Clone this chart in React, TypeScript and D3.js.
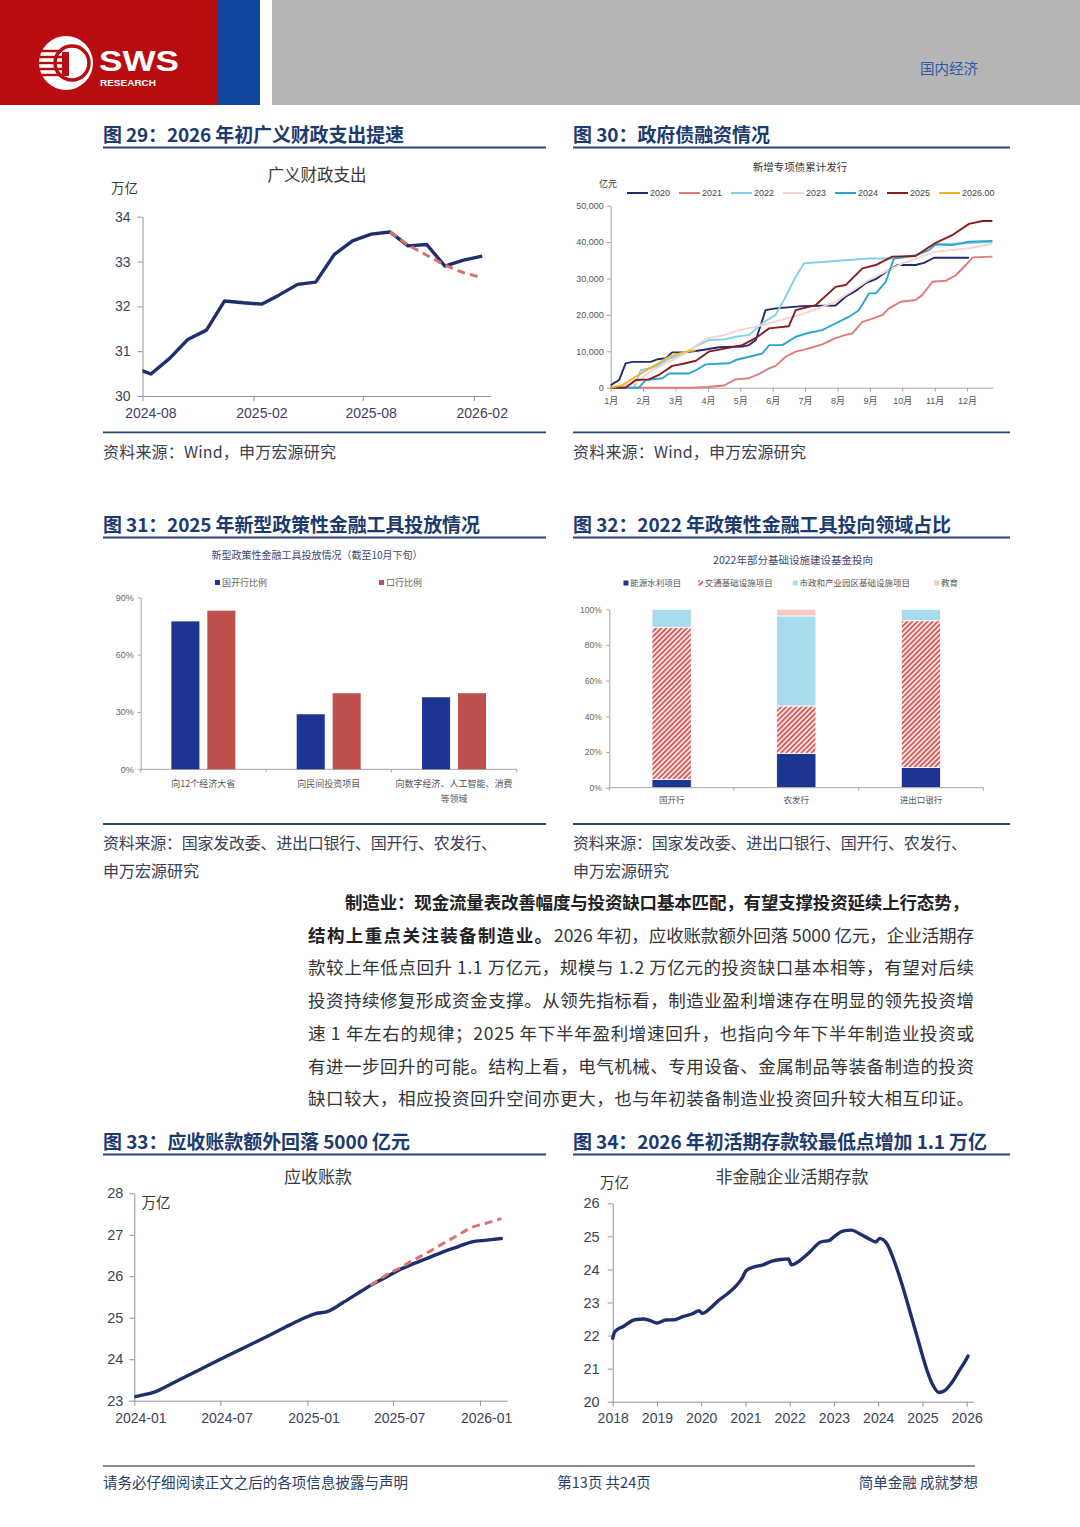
import { useEffect, useRef } from "react";
import * as d3 from "d3";

const CJK = "'Noto Sans CJK SC', 'Noto Sans', sans-serif";
const NUM = "'Liberation Sans', Arial, 'Noto Sans CJK SC', sans-serif";
const NAVY = "#1f2f6e";
const DASH_RED = "#d9736f";
const TITLE_BLUE = "#1d3a6e";
const AXIS_GREY = "#8d93a6";

// 图29 广义财政支出（万亿），按月
const fiscalMonths = ["2024-07", "2024-08", "2024-09", "2024-10", "2024-11", "2024-12", "2025-01", "2025-02", "2025-03", "2025-04",
  "2025-05", "2025-06", "2025-07", "2025-08", "2025-09", "2025-10", "2025-11", "2025-12", "2026-01", "2026-02"];
const fiscalSpend = [30.65, 30.49, 30.84, 31.26, 31.47, 32.12, 32.08, 32.05, 32.25, 32.49,
  32.54, 33.16, 33.46, 33.61, 33.66, 33.35, 33.38, 32.90, 33.03, 33.12];
const fiscalTrendMonths = ["2025-09", "2025-10", "2025-11", "2025-12", "2026-01", "2026-02"];
const fiscalTrend = [33.66, 33.37, 33.14, 32.92, 32.75, 32.64];
const fiscalXTicks = ["2024-08", "2025-02", "2025-08", "2026-02"];
const fiscalYTicks = [30, 31, 32, 33, 34];

// 图30 新增专项债累计发行（亿元），x 为月份位置（0 = 1月）
const bondYears = ["2020", "2021", "2022", "2023", "2024", "2025", "2026.00"];
const bondColors = ["#1f2d6b", "#e07b79", "#82d2e6", "#f3d3d3", "#2ba6cf", "#8b1b1d", "#f0b429"];
const bond2020: [number, number][] = [[0, 700], [0.26, 2100], [0.46, 6700], [0.67, 7100], [1.23, 7100], [1.44, 7800], [1.7, 8100], [1.9, 9700],
  [2.26, 9700], [2.62, 10100], [2.93, 10500], [3.34, 11100], [4.06, 11300], [4.27, 11700], [4.48, 13100], [4.78, 21300], [5.09, 21800],
  [5.92, 22400], [6.94, 22600], [7.25, 25000], [7.56, 26600], [7.87, 28700], [8.18, 29800], [8.54, 32100], [8.85, 33700], [9.41, 33700],
  [9.67, 34300], [9.98, 35700], [11.06, 35700]];
const bond2021: [number, number][] = [[0, 0], [2.5, 0], [3.0, 200], [3.5, 600], [3.85, 2300], [4.27, 2600], [4.58, 3800], [4.89, 5300],
  [5.09, 6000], [5.4, 8500], [5.71, 9900], [6.12, 10800], [6.53, 11900], [6.94, 13600], [7.25, 14500], [7.46, 14900], [7.77, 18100],
  [8.08, 19000], [8.39, 20000], [8.59, 21800], [8.95, 23600], [9.41, 24100], [9.62, 25500], [9.93, 29100], [10.35, 29400], [10.65, 30900],
  [10.96, 33700], [11.17, 35800], [11.78, 36000]];
const bond2022: [number, number][] = [[0, 0], [0.72, 0], [0.93, 4800], [1.39, 5800], [1.8, 8000], [2.21, 9000], [2.61, 11300], [3.03, 13100],
  [3.55, 13300], [3.86, 14000], [4.27, 14500], [4.68, 17700], [5.09, 20000], [5.4, 25000], [5.71, 30500], [5.97, 34200], [6.94, 34800],
  [7.97, 35500], [8.74, 35500], [9.4, 36200], [9.93, 39200], [11.78, 40100]];
const bond2023: [number, number][] = [[0, 0], [0.77, 1200], [1.29, 4900], [2.11, 8500], [2.83, 12700], [2.97, 13500], [3.55, 14600],
  [3.96, 15800], [4.47, 16700], [4.89, 17700], [5.92, 20200], [6.94, 23600], [7.97, 29600], [8.99, 34100], [10.01, 37300], [11.06, 38300],
  [11.78, 39600]];
const bond2024: [number, number][] = [[0, 0], [0.87, 0], [1.08, 2100], [1.6, 2600], [1.8, 3900], [2.42, 3900], [2.63, 4800], [2.93, 6400],
  [3.65, 6700], [3.86, 7600], [4.27, 8500], [4.68, 9400], [4.89, 11700], [5.3, 11700], [5.71, 14000], [6.12, 15100], [6.53, 15800],
  [6.94, 17700], [7.36, 19500], [7.66, 21300], [7.97, 25900], [8.18, 25900], [8.49, 29100], [8.74, 35500], [9.41, 36400], [9.83, 37800],
  [10.03, 39400], [10.54, 39200], [11.06, 40100], [11.78, 40300]];
const bond2025: [number, number][] = [[0, 0], [0.46, 0], [0.77, 2100], [1.18, 2300], [1.49, 3500], [1.9, 6000], [2.21, 6500], [2.63, 7400],
  [3.03, 9900], [3.55, 10800], [4.06, 11700], [4.47, 13600], [4.89, 16300], [5.5, 16900], [5.71, 21300], [6.33, 22700], [6.94, 27700],
  [7.25, 28200], [7.77, 32800], [8.18, 33700], [8.69, 36000], [9.41, 36200], [10.03, 39800], [10.54, 41900], [11.06, 45000],
  [11.47, 45800], [11.78, 45800]];
const bond2026: [number, number][] = [[0, 0], [0.36, 700], [0.77, 3000], [1.29, 5800], [1.8, 8500], [2.31, 9900], [2.62, 10300]];
const bondSeries = [bond2020, bond2021, bond2022, bond2023, bond2024, bond2025, bond2026];
const bondMonthLabels = ["1月", "2月", "3月", "4月", "5月", "6月", "7月", "8月", "9月", "10月", "11月", "12月"];
const bondYTicks = [0, 10000, 20000, 30000, 40000, 50000];

// 图31 新型政策性金融工具投放情况
const toolCats = ["向12个经济大省", "向民间投资项目", "向数字经济、人工智能、消费等领域"];
const toolCatLines = [["向12个经济大省"], ["向民间投资项目"], ["向数字经济、人工智能、消费", "等领域"]];
const toolGroups = ["国开行比例", "口行比例"];
const cdbShare = [77.4, 28.8, 37.7];
const eximShare = [83.0, 39.8, 39.8];
const toolYTicks = [0, 30, 60, 90];

// 图32 2022年部分基础设施建设基金投向（%）
const fundBanks = ["国开行", "农发行", "进出口银行"];
const fundKeys = ["能源水利项目", "交通基础设施项目", "市政和产业园区基础设施项目", "教育"];
const energyShare = [4.7, 19.3, 11.4];
const transportShare = [85.2, 26.5, 82.2];
const municipalShare = [10.1, 50.5, 6.4];
const educationShare = [0, 3.7, 0];
const fundYTicks = [0, 20, 40, 60, 80, 100];

// 图33 应收账款（万亿）
const receivableMonths = ["2023-12", "2024-01", "2024-02", "2024-03", "2024-04", "2024-05", "2024-06", "2024-07", "2024-08", "2024-09",
  "2024-10", "2024-11", "2024-12", "2025-01", "2025-02", "2025-03", "2025-04", "2025-05", "2025-06", "2025-07", "2025-08", "2025-09",
  "2025-10", "2025-11", "2025-12", "2026-01", "2026-02"];
const receivable = [23.06, 23.13, 23.22, 23.38, 23.56, 23.73, 23.91, 24.08, 24.25, 24.42, 24.59, 24.77, 24.94, 25.09, 25.16, 25.35,
  25.57, 25.78, 25.97, 26.16, 26.31, 26.45, 26.59, 26.71, 26.83, 26.87, 26.91];
const receivableTrendMonths = ["2025-05", "2025-06", "2025-07", "2025-08", "2025-09", "2025-10", "2025-11", "2025-12", "2026-01", "2026-02"];
const receivableTrend = [25.78, 26.02, 26.2, 26.4, 26.59, 26.79, 26.99, 27.18, 27.28, 27.39];
const receivableXTicks = ["2024-01", "2024-07", "2025-01", "2025-07", "2026-01"];
const receivableYTicks = [23, 24, 25, 26, 27, 28];

// 图34 非金融企业活期存款（万亿），时间为小数年份
const depositTime = [2018.0, 2018.05, 2018.25, 2018.5, 2018.7, 2018.85, 2019.0, 2019.2, 2019.4, 2019.6, 2019.8, 2019.95, 2020.03,
  2020.2, 2020.4, 2020.6, 2020.8, 2020.92, 2021.02, 2021.2, 2021.38, 2021.6, 2021.8, 2021.97, 2022.04, 2022.25, 2022.45, 2022.7,
  2022.9, 2023.05, 2023.2, 2023.4, 2023.58, 2023.8, 2023.95, 2024.03, 2024.2, 2024.35, 2024.55, 2024.73, 2024.92, 2025.1, 2025.25,
  2025.37, 2025.5, 2025.65, 2025.83, 2025.98, 2026.03];
const depositValue = [21.92, 22.12, 22.28, 22.48, 22.5, 22.45, 22.38, 22.47, 22.48, 22.58, 22.66, 22.75, 22.67,
  22.82, 23.07, 23.27, 23.52, 23.72, 23.97, 24.08, 24.13, 24.25, 24.3, 24.32, 24.14, 24.29, 24.52, 24.83,
  24.88, 25.04, 25.16, 25.19, 25.08, 24.92, 24.83, 24.94, 24.77, 24.3, 23.5, 22.67, 21.78, 20.96, 20.47,
  20.28, 20.33, 20.55, 20.93, 21.26, 21.38];
const depositXTicks = [2018, 2019, 2020, 2021, 2022, 2023, 2024, 2025, 2026];
const depositYTicks = [20, 21, 22, 23, 24, 25, 26];

// 正文
const paragraphLines = [
  "款较上年低点回升 1.1 万亿元，规模与 1.2 万亿元的投资缺口基本相等，有望对后续",
  "投资持续修复形成资金支撑。从领先指标看，制造业盈利增速存在明显的领先投资增",
  "速 1 年左右的规律；2025 年下半年盈利增速回升，也指向今年下半年制造业投资或",
  "有进一步回升的可能。结构上看，电气机械、专用设备、金属制品等装备制造的投资",
  "缺口较大，相应投资回升空间亦更大，也与年初装备制造业投资回升较大相互印证。",
];

type G = d3.Selection<SVGGElement, unknown, null, undefined>;
type S = d3.Selection<SVGSVGElement, unknown, null, undefined>;

interface TextOpts { size: number; fill: string; anchor?: string; weight?: string | number; font?: string; len?: number; squeeze?: boolean }

function text(g: G | S, x: number, y: number, s: string, o: TextOpts) {
  const t = (g as G).append("text")
    .attr("x", x).attr("y", y)
    .attr("font-size", o.size)
    .attr("fill", o.fill)
    .attr("font-family", o.font ?? CJK)
    .attr("text-anchor", o.anchor ?? "start")
    .attr("font-weight", o.weight ?? "normal")
    .text(s);
  if (o.len) t.attr("textLength", o.len).attr("lengthAdjust", o.squeeze ? "spacingAndGlyphs" : "spacing");
  return t;
}

function styleAxis(a: G, line: string, fill: string, size: number) {
  a.attr("font-family", NUM).attr("font-size", size);
  a.select(".domain").attr("stroke", line).attr("stroke-width", 1);
  a.selectAll(".tick line").attr("stroke", line);
  a.selectAll(".tick text").attr("fill", fill);
}

const parseMonth = d3.timeParse("%Y-%m");
const midMonth = (m: string) => d3.timeDay.offset(parseMonth(m)!, 14);

// month axis: tick marks at month starts, labels centred on the month
function monthAxis(g: G, x: d3.ScaleTime<number, number>, yPos: number, ticks: string[], labelY: number) {
  const xa = g.append("g").attr("transform", `translate(0,${yPos})`)
    .call(d3.axisBottom(x).tickValues(ticks.map((m) => parseMonth(m)!)).tickFormat(() => "").tickSize(5).tickSizeOuter(0));
  styleAxis(xa, AXIS_GREY, "#3d4257", 14);
  g.append("g").selectAll("text").data(ticks).join("text")
    .attr("x", (m) => x(midMonth(m)))
    .attr("y", labelY)
    .attr("text-anchor", "middle")
    .attr("font-family", NUM).attr("font-size", 14).attr("fill", "#3d4257")
    .text((m) => m);
}

function drawFiscal(g: G) {
  const L = 142.5, R = 490.7, T = 216.7, B = 396;
  const x = d3.scaleTime().domain([parseMonth("2024-08")!, parseMonth("2026-03")!]).range([L, R]);
  const y = d3.scaleLinear().domain([30, 34]).range([B, T]);

  text(g, 317, 181, "广义财政支出", { size: 16.5, fill: "#3a3a3a", anchor: "middle" });
  text(g, 111, 193, "万亿", { size: 13.5, fill: "#3a3a3a" });

  const ya = g.append("g").attr("transform", `translate(${L},0)`)
    .call(d3.axisLeft(y).tickValues(fiscalYTicks).tickFormat(d3.format("d")).tickSize(5).tickSizeOuter(0).tickPadding(7));
  styleAxis(ya, AXIS_GREY, "#3d4257", 14);
  monthAxis(g, x, B, fiscalXTicks, 418);

  const clip = g.append("clipPath").attr("id", "clipFiscal");
  clip.append("rect").attr("x", L).attr("y", T - 10).attr("width", R - L).attr("height", B - T + 10);

  const line = d3.line<[Date, number]>().x((d) => x(d[0])).y((d) => y(d[1]));
  g.append("path")
    .datum(fiscalMonths.map((m, i) => [midMonth(m), fiscalSpend[i]] as [Date, number]))
    .attr("d", line).attr("clip-path", "url(#clipFiscal)")
    .attr("fill", "none").attr("stroke", NAVY).attr("stroke-width", 3.4).attr("stroke-linejoin", "round");
  g.append("path")
    .datum(fiscalTrendMonths.map((m, i) => [midMonth(m), fiscalTrend[i]] as [Date, number]))
    .attr("d", line)
    .attr("fill", "none").attr("stroke", DASH_RED).attr("stroke-width", 3).attr("stroke-dasharray", "8,5");
}

function drawBonds(g: G) {
  const L = 610.7, R = 992.7, T = 205.7, B = 387.7;
  const x = d3.scaleLinear().domain([0, 11.79]).range([L, R]);
  const y = d3.scaleLinear().domain([0, 50000]).range([B, T]);

  text(g, 800, 171, "新增专项债累计发行", { size: 10.5, fill: "#333", anchor: "middle" });
  text(g, 599, 187, "亿元", { size: 9, fill: "#333" });

  bondYears.forEach((yr, i) => {
    const lx = 627 + i * 52;
    g.append("line").attr("x1", lx).attr("x2", lx + 21).attr("y1", 193).attr("y2", 193)
      .attr("stroke", bondColors[i]).attr("stroke-width", 2);
    text(g, lx + 23, 196.3, yr, { size: 9, fill: "#444", font: NUM });
  });

  const ya = g.append("g").attr("transform", `translate(${L},0)`)
    .call(d3.axisLeft(y).tickValues(bondYTicks).tickFormat(d3.format(",")).tickSize(4).tickSizeOuter(0));
  styleAxis(ya, "#a5a5a5", "#555", 9);
  const xa = g.append("g").attr("transform", `translate(0,${B})`)
    .call(d3.axisBottom(x).tickValues(d3.range(12)).tickFormat((d) => bondMonthLabels[d as number]).tickSize(4).tickSizeOuter(0).tickPadding(6));
  styleAxis(xa, "#a5a5a5", "#555", 9);

  const line = d3.line<[number, number]>().x((d) => x(d[0])).y((d) => y(d[1]));
  bondSeries.forEach((s, i) => {
    g.append("path").datum(s).attr("d", line)
      .attr("fill", "none").attr("stroke", bondColors[i]).attr("stroke-width", 1.9).attr("stroke-linejoin", "round");
  });
}

function drawTools(g: G) {
  const L = 140.7, R = 516.7, T = 597.3, B = 769.3;
  const x0 = d3.scaleBand<string>().domain(toolCats).range([L, R]).padding(0);
  const bw = x0.bandwidth();
  const x1 = d3.scaleBand<string>().domain(toolGroups).range([bw / 2 - 32, bw / 2 + 32]).paddingInner(0.22);
  const y = d3.scaleLinear().domain([0, 90]).range([B, T]);
  const colors = ["#1b3591", "#c0504d"];
  const values = [cdbShare, eximShare];

  text(g, 317, 558.5, "新型政策性金融工具投放情况（截至10月下旬）", { size: 10, fill: "#3b4570", anchor: "middle" });
  const legendX = [215, 379];
  toolGroups.forEach((k, i) => {
    g.append("rect").attr("x", legendX[i]).attr("y", 580).attr("width", 5).attr("height", 5).attr("fill", colors[i]);
    text(g, legendX[i] + 7, 585.8, k, { size: 9, fill: "#666" });
  });

  const ya = g.append("g").attr("transform", `translate(${L},0)`)
    .call(d3.axisLeft(y).tickValues(toolYTicks).tickFormat((d) => `${d}%`).tickSize(3).tickSizeOuter(0).tickPadding(4));
  styleAxis(ya, "#a5a5a5", "#666", 9);
  g.append("line").attr("x1", L).attr("x2", R).attr("y1", B).attr("y2", B).attr("stroke", "#a5a5a5");
  d3.range(toolCats.length + 1).forEach((i) => {
    const tx = L + i * bw;
    g.append("line").attr("x1", tx).attr("x2", tx).attr("y1", B).attr("y2", B + 3).attr("stroke", "#a5a5a5");
  });

  toolCats.forEach((c, ci) => {
    toolGroups.forEach((k, ki) => {
      const v = values[ki][ci];
      g.append("rect")
        .attr("x", x0(c)! + x1(k)!).attr("width", x1.bandwidth())
        .attr("y", y(v)).attr("height", B - y(v)).attr("fill", colors[ki]);
    });
    toolCatLines[ci].forEach((ln, li) => {
      text(g, x0(c)! + bw / 2, 786.5 + li * 15, ln, { size: 9, fill: "#555", anchor: "middle" });
    });
  });
}

function drawFunds(g: G) {
  const L = 609.3, R = 983.3, T = 609.3, B = 787.7;
  const x = d3.scaleBand<string>().domain(fundBanks).range([L, R]).paddingInner(0.685).paddingOuter(0.3425);
  const step = x.step();
  const y = d3.scaleLinear().domain([0, 100]).range([B, T]);
  const fills = ["#1b3591", "url(#hatchRed)", "#a8dcec", "#f5c8c8"];

  text(g, 793, 564, "2022年部分基础设施建设基金投向", { size: 10.5, fill: "#3b4570", anchor: "middle" });
  const legendX = [623.5, 698, 792.7, 934.3];
  fundKeys.forEach((k, i) => {
    g.append("rect").attr("x", legendX[i]).attr("y", 580.5).attr("width", 5).attr("height", 5).attr("fill", fills[i]);
    text(g, legendX[i] + 6.7, 586, k, { size: 8.5, fill: "#555" });
  });

  const ya = g.append("g").attr("transform", `translate(${L},0)`)
    .call(d3.axisLeft(y).tickValues(fundYTicks).tickFormat((d) => `${d}%`).tickSize(3).tickSizeOuter(0).tickPadding(4.5));
  styleAxis(ya, "#a5a5a5", "#666", 8.5);

  const rows = fundBanks.map((b, i) => ({
    bank: b,
    [fundKeys[0]]: energyShare[i],
    [fundKeys[1]]: transportShare[i],
    [fundKeys[2]]: municipalShare[i],
    [fundKeys[3]]: educationShare[i],
  }));
  const stacked = d3.stack<any>().keys(fundKeys)(rows);
  stacked.forEach((layer, li) => {
    g.append("g").selectAll("rect").data(layer).join("rect")
      .attr("x", (d) => x(d.data.bank)!)
      .attr("width", x.bandwidth())
      .attr("y", (d) => y(d[1]))
      .attr("height", (d) => Math.max(0, y(d[0]) - y(d[1])))
      .attr("fill", fills[li])
      .attr("stroke", "#fff").attr("stroke-width", (d) => (d[1] - d[0] > 0 ? 0.8 : 0));
  });

  g.append("line").attr("x1", L).attr("x2", R).attr("y1", B).attr("y2", B).attr("stroke", "#a5a5a5");
  d3.range(fundBanks.length + 1).forEach((i) => {
    const tx = L + i * step;
    g.append("line").attr("x1", tx).attr("x2", tx).attr("y1", B).attr("y2", B + 3).attr("stroke", "#a5a5a5");
  });
  fundBanks.forEach((b) => {
    text(g, x(b)! + x.bandwidth() / 2, 803, b, { size: 8.5, fill: "#555", anchor: "middle" });
  });
}

function drawReceivable(g: G) {
  const L = 134.3, R = 507, T = 1193.3, B = 1400.7;
  const x = d3.scaleTime().domain([parseMonth("2024-01")!, new Date(2026, 1, 27)]).range([L, R]);
  const y = d3.scaleLinear().domain([23, 28]).range([B, T]);

  text(g, 318, 1183, "应收账款", { size: 17, fill: "#3a3a3a", anchor: "middle" });
  text(g, 141.5, 1208, "万亿", { size: 14.5, fill: "#3a3a3a" });

  const ya = g.append("g").attr("transform", `translate(${L},0)`)
    .call(d3.axisLeft(y).tickValues(receivableYTicks).tickFormat(d3.format("d")).tickSize(5).tickSizeOuter(0).tickPadding(6));
  styleAxis(ya, AXIS_GREY, "#3d4257", 14.5);
  monthAxis(g, x, B, receivableXTicks, 1423);

  const clip = g.append("clipPath").attr("id", "clipRecv");
  clip.append("rect").attr("x", L).attr("y", T - 10).attr("width", R - L).attr("height", B - T + 10);

  const line = d3.line<[Date, number]>().x((d) => x(d[0])).y((d) => y(d[1])).curve(d3.curveMonotoneX);
  g.append("path")
    .datum(receivableMonths.map((m, i) => [midMonth(m), receivable[i]] as [Date, number]))
    .attr("d", line).attr("clip-path", "url(#clipRecv)")
    .attr("fill", "none").attr("stroke", NAVY).attr("stroke-width", 3.4).attr("stroke-linecap", "round");
  g.append("path")
    .datum(receivableTrendMonths.map((m, i) => [midMonth(m), receivableTrend[i]] as [Date, number]))
    .attr("d", line)
    .attr("fill", "none").attr("stroke", DASH_RED).attr("stroke-width", 3).attr("stroke-dasharray", "8,5");
}

function drawDeposit(g: G) {
  const L = 612.7, R = 973.3, T = 1203.3, B = 1401.7;
  const x = d3.scaleLinear().domain([2018, 2026.15]).range([L, R]);
  const y = d3.scaleLinear().domain([20, 26]).range([B, T]);

  text(g, 792, 1182.5, "非金融企业活期存款", { size: 17, fill: "#3a3a3a", anchor: "middle" });
  text(g, 600, 1188, "万亿", { size: 14.5, fill: "#3a3a3a" });

  const ya = g.append("g").attr("transform", `translate(${L},0)`)
    .call(d3.axisLeft(y).tickValues(depositYTicks).tickFormat(d3.format("d")).tickSize(5).tickSizeOuter(0).tickPadding(8));
  styleAxis(ya, AXIS_GREY, "#3d4257", 14.5);
  const xa = g.append("g").attr("transform", `translate(0,${B})`)
    .call(d3.axisBottom(x).tickValues(depositXTicks).tickFormat(d3.format("d")).tickSize(5).tickSizeOuter(0).tickPadding(6));
  styleAxis(xa, AXIS_GREY, "#3d4257", 14);

  const line = d3.line<[number, number]>().x((d) => x(d[0])).y((d) => y(d[1])).curve(d3.curveMonotoneX);
  g.append("path")
    .datum(depositTime.map((t, i) => [t, depositValue[i]] as [number, number]))
    .attr("d", line)
    .attr("fill", "none").attr("stroke", NAVY).attr("stroke-width", 3.4).attr("stroke-linecap", "round");
}

function drawPage(svg: S) {
  // header
  svg.append("rect").attr("x", 0).attr("y", 0).attr("width", 218).attr("height", 105).attr("fill", "#b80c10");
  svg.append("rect").attr("x", 218).attr("y", 0).attr("width", 42).attr("height", 105).attr("fill", "#12479f");
  svg.append("rect").attr("x", 272).attr("y", 0).attr("width", 808).attr("height", 105).attr("fill", "#b5b5b5");
  const logo = svg.append("g");
  logo.append("circle").attr("cx", 66).attr("cy", 63).attr("r", 27).attr("fill", "#fff");
  logo.append("circle").attr("cx", 72).attr("cy", 63).attr("r", 17).attr("fill", "none").attr("stroke", "#b80c10").attr("stroke-width", 3.5);
  d3.range(5).forEach((i) => {
    logo.append("line").attr("x1", 38).attr("x2", 62).attr("y1", 51 + i * 6).attr("y2", 51 + i * 6)
      .attr("stroke", "#b80c10").attr("stroke-width", 2.4);
  });
  logo.append("rect").attr("x", 62).attr("y", 52).attr("width", 7).attr("height", 24).attr("fill", "#b80c10");
  text(svg, 99, 71, "SWS", { size: 30, fill: "#fff", weight: 700, font: NUM, len: 80, squeeze: true });
  text(svg, 100, 85.5, "RESEARCH", { size: 8.5, fill: "#fff", weight: 700, font: NUM, len: 56, squeeze: true });
  text(svg, 920, 74, "国内经济", { size: 14.5, fill: "#2d5aa6" });

  // section titles
  const titles: [number, number, string, number][] = [
    [103, 142, "图 29：2026 年初广义财政支出提速", 301],
    [573, 142, "图 30：政府债融资情况", 197],
    [103, 532, "图 31：2025 年新型政策性金融工具投放情况", 377],
    [573, 532, "图 32：2022 年政策性金融工具投向领域占比", 378],
    [103, 1149, "图 33：应收账款额外回落 5000 亿元", 307],
    [573, 1149, "图 34：2026 年初活期存款较最低点增加 1.1 万亿", 414],
  ];
  titles.forEach(([tx, ty, s, len]) => {
    text(svg, tx, ty, s, { size: 19, fill: TITLE_BLUE, weight: 700, len });
    const w = tx < 500 ? 443 : 437;
    svg.append("line").attr("x1", tx).attr("x2", tx + w).attr("y1", ty + 5.5).attr("y2", ty + 5.5)
      .attr("stroke", "#2a4478").attr("stroke-width", 1.8);
  });

  // source rules and notes
  [[103, 546, 432.3], [573, 1010, 432.3], [103, 546, 824], [573, 1010, 824]].forEach(([x1, x2, yy]) => {
    svg.append("line").attr("x1", x1).attr("x2", x2).attr("y1", yy).attr("y2", yy).attr("stroke", "#2a4478").attr("stroke-width", 1.8);
  });
  const srcFill = "#3b4052";
  text(svg, 103, 457.5, "资料来源：Wind，申万宏源研究", { size: 16, fill: srcFill, len: 233 });
  text(svg, 573, 457.5, "资料来源：Wind，申万宏源研究", { size: 16, fill: srcFill, len: 233 });
  text(svg, 103, 849, "资料来源：国家发改委、进出口银行、国开行、农发行、", { size: 16, fill: srcFill, len: 394 });
  text(svg, 103, 877, "申万宏源研究", { size: 16, fill: srcFill });
  text(svg, 573, 849, "资料来源：国家发改委、进出口银行、国开行、农发行、", { size: 16, fill: srcFill, len: 394 });
  text(svg, 573, 877, "申万宏源研究", { size: 16, fill: srcFill });

  // paragraph
  const pFill = "#333";
  const lh = 32.7;
  text(svg, 345, 909, "制造业：现金流量表改善幅度与投资缺口基本匹配，有望支撑投资延续上行态势，", { size: 17.5, fill: "#222", weight: 700, len: 624 });
  text(svg, 308, 909 + lh, "结构上重点关注装备制造业。", { size: 17.5, fill: "#222", weight: 700, len: 244 });
  text(svg, 554, 909 + lh, "2026 年初，应收账款额外回落 5000 亿元，企业活期存", { size: 17.5, fill: pFill, len: 420 });
  paragraphLines.forEach((s, i) => {
    text(svg, 308, 909 + lh * (i + 2), s, { size: 17.5, fill: pFill, len: 666 });
  });

  // footer
  svg.append("line").attr("x1", 103).attr("x2", 975).attr("y1", 1466).attr("y2", 1466).attr("stroke", "#666").attr("stroke-width", 1.5);
  text(svg, 103, 1488, "请务必仔细阅读正文之后的各项信息披露与声明", { size: 14.5, fill: "#2b3d66", len: 305 });
  text(svg, 604, 1488, "第13页 共24页", { size: 14.5, fill: "#2b3d66", anchor: "middle" });
  text(svg, 978, 1488, "简单金融 成就梦想", { size: 14.5, fill: "#2b3d66", anchor: "end" });
}

export default function App() {
  const svgRef = useRef<SVGSVGElement>(null);

  useEffect(() => {
    if (!svgRef.current) return;
    const svg = d3.select(svgRef.current);
    svg.selectAll("*").remove();

    const defs = svg.append("defs");
    const pat = defs.append("pattern").attr("id", "hatchRed").attr("patternUnits", "userSpaceOnUse")
      .attr("width", 3.6).attr("height", 3.6).attr("patternTransform", "rotate(45)");
    pat.append("rect").attr("width", 3.6).attr("height", 3.6).attr("fill", "#fff");
    pat.append("rect").attr("width", 2.1).attr("height", 3.6).attr("fill", "#d95e5b");

    drawPage(svg);
    drawFiscal(svg.append("g"));
    drawBonds(svg.append("g"));
    drawTools(svg.append("g"));
    drawFunds(svg.append("g"));
    drawReceivable(svg.append("g"));
    drawDeposit(svg.append("g"));
  }, []);

  return (
    <div>
      <style>{"body{margin:0;background:#fff}"}</style>
      <svg ref={svgRef} width={1080} height={1527} style={{ display: "block", background: "#fff" }} />
    </div>
  );
}
